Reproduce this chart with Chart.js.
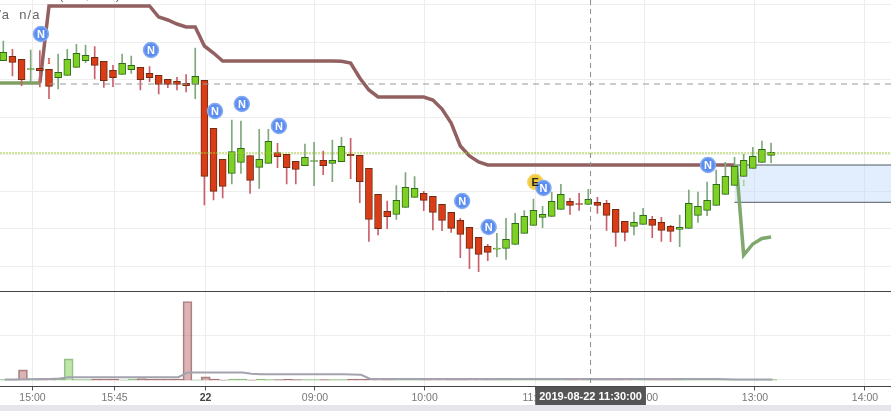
<!DOCTYPE html>
<html>
<head>
<meta charset="utf-8">
<script src="https://cdn.jsdelivr.net/npm/chart.js@4"></script>
<style>
html, body { margin: 0; padding: 0; background: #e6e6ea; overflow: hidden; }
#wrap { position: relative; width: 891px; height: 405px; background: #fff; overflow: hidden; }
canvas { display: block; }
.legend { position: absolute; font: 13px "Liberation Sans", Arial, sans-serif; letter-spacing: 1px; color: #666; white-space: pre; }
</style>
</head>
<body>
<div id="wrap">
    <canvas id="chart" width="891" height="405"></canvas>
    <div class="legend" style="left:-11px; top:7px;">n/a  n/a</div>
    <div class="legend" style="left:59px; top:-13px;">(n/a, n/a)</div>
</div>
<script>
// 5 minute bars, index 0 is the first visible bar
var opens = [239.3,243.7,240.7,230.5,231.7,230.7,222.3,224.7,232.7,239.3,242.7,238.7,229.7,225.7,230.3,232.7,226.7,224.7,220.7,218.7,216.7,215.7,219.7,171.7,140.7,126.7,137.7,144.3,132.7,136.7,147.3,145.7,138.7,134.3,138.5,139.7,136.7,138.3,145.7,144.7,131.7,105.7,88.7,85.7,92.7,102.7,106.7,103.7,95.7,87.7,79.7,72.7,62.7,53.7,50.8,51.7,55.7,66.7,74.7,82.7,83.7,90.7,98.7,96.5,95.7,97.7,96.7,90.7,78.7,73.7,75.7,80.7,77.7,73.7,70.7,71.7,84.7,89.7,94.7,105.7,114.7,123.7,131.7,137.7,144.7];
var closes = [247.7,237.7,220.3,231.5,229.3,213.7,227.7,240.7,246.7,244.7,234.7,219.3,222.3,236.7,234.7,220.3,222.3,215.7,215.7,215.7,214.3,223.7,123.7,108.7,113.7,148.3,151.7,119.7,140.7,158.7,143.3,132.3,130.7,142.7,139.5,134.3,139.7,153.7,144.3,118.3,80.7,71.3,83.3,99.7,112.7,111.7,99.7,87.7,79.7,71.7,65.7,51.7,45.7,47.7,51.8,60.7,76.7,83.7,89.7,85.7,98.7,105.7,94.7,95.5,100.7,94.7,84.7,67.7,67.7,77.7,84.7,74.7,69.7,68.7,72.7,96.7,93.7,99.7,115.7,123.7,133.7,139.7,143.7,150.7,147.7];
var highs = [259,250.7,240.7,250,249.3,230.7,246,250.7,255.7,255,253.3,238.7,234.7,246,244,232.7,233.3,224.7,220.7,222.7,225.3,252,219.7,171.7,140.7,180,179,144.3,170.7,170.7,156.7,145.7,138.7,156,157.7,149,160,162.7,161.7,144.7,131.7,105.7,99,114.3,127.3,123.3,108.7,103.7,95.7,87.7,81.7,72.7,62.7,55.7,66.7,81.7,86.7,89.3,101,93.7,108,115.7,101.7,106.7,110.7,102.7,99.7,90.7,78.7,87.7,91.7,83.7,82.7,74.7,85,110,108,118,130,137.7,142.7,145.7,152.7,159,157];
var lows = [239.3,224,214.3,217,213,201.3,211,224.7,232.7,237.3,221,212.7,213.3,225.7,226.7,210,218.3,206,212.3,210,208,201.3,95,100,102,116,126.7,106.7,111.7,136.7,132.3,116,116,134.3,114.3,125.3,118.3,138.3,121.3,97.3,58.7,65,71.3,80.7,92.7,102.7,89.3,70,69.3,67.7,42.3,31.3,28.3,39.3,43,40.7,55.7,66.7,74.7,72.3,83.7,90.7,85.7,89.7,95.7,86.7,69.7,53.7,59,65,75.7,62.3,58.7,58.3,53.3,71.7,77.7,84.3,94.7,105.7,114.7,123.7,131.7,137.7,137.3];
var volumes = [1,1,10.7,2,1,2,1.5,21.7,1,1,1.5,1.5,1.5,0.5,1.5,2,1.5,1.5,1.5,1.5,79,0.5,3.7,1.5,0.5,1.5,1.5,0.5,1.5,1,1,1.5,1,1,1,1,1,1,1.5,1.5,1.5,1.5,1,1,1,1,1,1.5,1.5,1,1,1.5,1.5,1,0.5,0.5,1,1,1,1,1,1,1,1.5,0.5,1,1,1,1.5,1.5,0.5,1,1,1,0.5,1,1,1,1,1,1,1,1,1,1];
var avgVolume = [1,1,1.2,1.3,1.4,1.5,2,3.3,3.3,3.3,3.3,3.3,3.3,3.3,3.3,3.3,3.3,3.3,3.3,3.3,8,8,8,8,8,8,8,6.7,6.3,6.3,6.3,6.3,6.3,6.3,6.3,6.3,6.3,6.3,6,5.7,1.5,1.5,1.5,1.5,1.5,1.5,1.5,1.5,1.5,1.5,1.5,1.5,1.5,1.5,1.5,1.5,1.5,1.5,1.5,1.5,1.5,1.5,1.5,1.5,1.5,1.5,1.5,1.5,1.5,1.5,1.5,1.5,1.5,1.5,1.5,1.5,1.5,1.5,1.5,1.2,1,1,1,1,1];

// upper band starts at bar 4, lower band has a short run in and a tail
var upperStart = 4;
var upperBand = [217,294,294,294,294,294,294,294,294,294,294,294,294,283,280,276,273,273,254,247,239,239,239,239,239,239,239,239,239,239,239,239,239,238.7,237,222,210,203,203,203,203,203,203,200,191,177,154,144,138,135,135,135,135,135,135,135,135,135,135,135,135,135,135,135,135,135,135,135,135,135,135,135,135,135,135,135,135];
var lowerHeadBars = [-1,0,1,2,3,4];
var lowerHead = [217,217,217,217,217,217];
var lowerTailBars = [80.2,81,82,83,84];
var lowerTail = [135,45,56,61.5,63];

var zoneFromBar = 80;
var zoneTop = 135;
var zoneBottom = 97.7;
var lastPrice = 147;
var markPrice = 216;
var markFromBar = 5;
var crosshairBar = 64.25;
var crosshairLabel = '2019-08-22 11:30:00';

var newsBars = [4.12,16.16,23.16,26.1,30.16,50.2,53.1,59.1,77.1];
var newsPrices = [266,250,189,196,174,99,73,112,135];
var earningsBars = [58.2];
var earningsPrices = [118];
var flagBars = [5,81];
var flagPrices = [238,116];
var flagColors = ['#c8503c', '#a5d67a'];

var tickBars = [3.19,12.17,22.12,34.1,46.1,58.2,70.2,82.24,94.27];
var tickLabels = ['15:00','15:45','22','09:00','10:00','11:00','12:00','13:00','14:00'];
var priceGrid = [295,257.5,220.5,183,146,108.5,71.5,34];
var volumeGrid = [89.5,45.5,1.5];

var RED = '#d93c17', RED_EDGE = '#6e2c12', RED_WICK = '#c9606a';
var GREEN = '#7ed024', GREEN_EDGE = '#2e6a1a', GREEN_WICK = '#7fa87c';

function isUp(i) { return closes[i] >= opens[i]; }

var bars = opens.map(function (v, i) { return i; });

function line(points, color, width, order, dash) {
    return {
        type: 'line', data: points, borderColor: color, borderWidth: width, order: order,
        borderDash: dash || [], pointRadius: 0, tension: 0, fill: false, yAxisID: 'y'
    };
}

var xMin = -0.361, xMax = 97.12, yTop = 300, yBottom = -86.5;

var datasets = [
    // news and earnings badges
    {
        type: 'scatter', data: newsBars.map(function (b, i) { return { x: b, y: newsPrices[i] }; }),
        backgroundColor: '#5b8eee', borderColor: '#84aaf3', borderWidth: 1.5, pointRadius: 7.5, order: 0, yAxisID: 'y'
    },
    {
        type: 'scatter', data: earningsBars.map(function (b, i) { return { x: b, y: earningsPrices[i] }; }),
        backgroundColor: '#f0c93c', borderColor: '#f3d566', borderWidth: 1.5, pointRadius: 7.5, order: 0.5, yAxisID: 'y'
    },
    line([{ x: crosshairBar, y: yTop }, { x: crosshairBar, y: yBottom }], '#8c8c8c', 1, 1, [5, 4]),
    line([{ x: xMin, y: lastPrice }, { x: xMax, y: lastPrice }], '#9ccb2e', 1, 1, [2, 1]),
    line([{ x: markFromBar, y: markPrice }, { x: xMax, y: markPrice }], '#999999', 1, 1, [6, 5]),
    // candle bodies
    {
        type: 'bar', data: bars.map(function (i) { return { x: i, y: [opens[i], closes[i]] }; }),
        backgroundColor: bars.map(function (i) { return isUp(i) ? GREEN : RED; }),
        borderColor: bars.map(function (i) { return isUp(i) ? GREEN_EDGE : RED_EDGE; }),
        borderWidth: 1, borderSkipped: false, barThickness: 7, grouped: false, order: 2, yAxisID: 'y'
    },
    // candle wicks
    {
        type: 'bar', data: bars.map(function (i) { return { x: i, y: [lows[i], highs[i]] }; }),
        backgroundColor: bars.map(function (i) { return isUp(i) ? GREEN_WICK : RED_WICK; }),
        borderWidth: 0, borderSkipped: false, barThickness: 1, grouped: false, order: 3, yAxisID: 'y'
    },
    line(upperBand.map(function (v, i) { return { x: upperStart + i, y: v }; }), '#926060', 3.5, 4),
    line(lowerHead.map(function (v, i) { return { x: lowerHeadBars[i], y: v }; }), '#7f9f63', 3.5, 3.5),
    line(lowerTail.map(function (v, i) { return { x: lowerTailBars[i], y: v }; }), '#7fa86c', 3.5, 3.5),
    // highlighted zone
    line([{ x: zoneFromBar, y: zoneTop }, { x: xMax, y: zoneTop }], '#4f5b63', 1, 5),
    Object.assign(line([{ x: zoneFromBar, y: zoneBottom }, { x: xMax, y: zoneBottom }], '#4f5b63', 1, 5), {
        fill: '-1', backgroundColor: 'rgba(190,216,250,0.45)'
    }),
    // volume pane
    {
        type: 'line', data: avgVolume.map(function (v, i) { return { x: i + 0.15, y: v }; }),
        borderColor: '#a3a3b0', borderWidth: 2, pointRadius: 0, tension: 0, order: 6, yAxisID: 'vol'
    },
    {
        type: 'bar', data: bars.map(function (i) { return { x: i + 0.15, y: volumes[i] }; }),
        backgroundColor: bars.map(function (i) { return isUp(i) ? 'rgba(125,205,90,0.5)' : 'rgba(175,90,90,0.45)'; }),
        borderColor: bars.map(function (i) { return isUp(i) ? 'rgba(90,150,70,0.6)' : 'rgba(115,55,55,0.6)'; }),
        borderWidth: 1, barThickness: 9, grouped: false, order: 7, yAxisID: 'vol'
    }
];

var labelsPlugin = {
    id: 'labels',
    afterDraw: function (chart) {
        var c = chart.ctx, x = chart.scales.x, y = chart.scales.y;
        c.save();
        c.textAlign = 'center';
        c.textBaseline = 'middle';

        c.font = 'bold 11px "Liberation Sans", Arial, sans-serif';
        c.fillStyle = '#ffffff';
        newsBars.forEach(function (b, i) {
            c.fillText('N', x.getPixelForValue(b), y.getPixelForValue(newsPrices[i]) + 0.5);
        });
        c.fillStyle = '#222222';
        earningsBars.forEach(function (b, i) {
            c.fillText('E', x.getPixelForValue(b), y.getPixelForValue(earningsPrices[i]) + 0.5);
        });

        c.font = 'bold 9px "Liberation Serif", serif';
        flagBars.forEach(function (b, i) {
            c.fillStyle = flagColors[i];
            c.fillText('I', x.getPixelForValue(b), y.getPixelForValue(flagPrices[i]));
        });

        // crosshair time label sits on the axis
        c.font = 'bold 11px "Liberation Sans", Arial, sans-serif';
        var cx = x.getPixelForValue(crosshairBar);
        var w = c.measureText(crosshairLabel).width + 8;
        c.fillStyle = '#555555';
        c.fillRect(cx - w / 2, chart.chartArea.bottom, w, 18.5);
        c.fillStyle = '#ffffff';
        c.fillText(crosshairLabel, cx, chart.chartArea.bottom + 10);
        c.restore();
    }
};

new Chart(document.getElementById('chart'), {
    data: { datasets: datasets },
    plugins: [labelsPlugin],
    options: {
        responsive: false,
        animation: false,
        events: [],
        layout: { padding: 0, autoPadding: false },
        plugins: { legend: { display: false }, tooltip: { enabled: false }, title: { display: false } },
        scales: {
            x: {
                type: 'linear', min: xMin, max: xMax, offset: false,
                afterBuildTicks: function (scale) {
                    scale.ticks = tickBars.map(function (b) { return { value: b }; });
                },
                afterFit: function (scale) { scale.height = 18.5; },
                grid: { offset: false, color: '#ececec', tickColor: '#555555', tickLength: 4 },
                border: { display: true, color: '#444444', width: 1 },
                ticks: {
                    autoSkip: false, maxRotation: 0, padding: 1,
                    color: function (ctx) { return tickLabels[ctx.index] === '22' ? '#444444' : '#777777'; },
                    font: function (ctx) {
                        return { family: '"Liberation Sans", Arial, sans-serif', size: 10.5, weight: tickLabels[ctx.index] === '22' ? 'bold' : 'normal' };
                    },
                    callback: function (value, index) { return tickLabels[index]; }
                }
            },
            y: {
                min: yBottom, max: yTop,
                afterBuildTicks: function (scale) {
                    scale.ticks = priceGrid.map(function (v) { return { value: v }; });
                },
                afterFit: function (scale) { scale.width = 0; },
                grid: { color: '#eeeeee', drawTicks: false },
                border: { display: false },
                ticks: { display: false }
            },
            vol: {
                position: 'left', min: -6, max: 380.5,
                afterBuildTicks: function (scale) {
                    scale.ticks = volumeGrid.map(function (v) { return { value: v }; });
                },
                afterFit: function (scale) { scale.width = 0; },
                grid: {
                    drawTicks: false,
                    color: function (ctx) { return ctx.index === 0 ? '#444444' : '#eeeeee'; }
                },
                border: { display: false },
                ticks: { display: false }
            }
        }
    }
});
</script>
</body>
</html>
